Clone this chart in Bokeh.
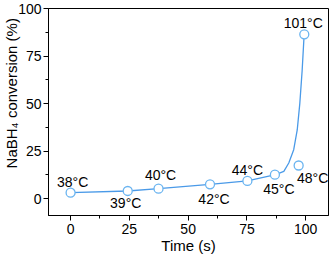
from bokeh.plotting import figure
from bokeh.models import FixedTicker, ColumnDataSource, Range1d
from bokeh.core.properties import value
from bokeh.embed import file_html
from bokeh.resources import INLINE

# smooth guide curve
curve_t = [0, 24.3, 37.4, 59.3, 75.2, 87.2, 90.7, 92.8, 94.9, 96.4, 97.5, 98.5, 99.2, 99.4]
curve_y = [3.1, 4.0, 5.2, 7.5, 9.3, 12.6, 14.3, 18.7, 25.7, 36.1, 50.1, 67.5, 83.2, 86.4]

# measured points
point_t = [0, 24.3, 37.4, 59.3, 75.2, 86.9, 97.0, 99.4]
point_y = [3.1, 4.0, 5.2, 7.5, 9.3, 12.6, 17.4, 86.4]
point_labels = ["38°C", "39°C", "40°C", "42°C", "44°C", "45°C", "48°C", "101°C"]

x_ticks = [0, 25, 50, 75, 100]
y_ticks = [0, 25, 50, 75, 100]

FONT = "Liberation Sans"
LINE = "#4a9ae8"
MARK = "#6ab4f0"

p = figure(width=331, height=256, output_backend="svg", toolbar_location=None,
           x_range=Range1d(-9.4, 109.7), y_range=Range1d(-8.9, 100),
           min_border_left=47, min_border_right=3, min_border_top=8, min_border_bottom=40)
p.background_fill_color = "white"
p.border_fill_color = "white"
p.outline_line_color = "black"
p.outline_line_width = 1
p.xgrid.visible = False
p.ygrid.visible = False

p.line(curve_t, curve_y, line_color=LINE, line_width=1.3)
p.scatter(point_t, point_y, size=9, marker="circle", fill_color="white",
          line_color=MARK, line_width=1.3)

src = ColumnDataSource(dict(x=point_t, y=point_y, text=point_labels,
                            dx=[2, -2, 2, 4, 0, 4, 14, -1],
                            dy=[-11, 12, -14, 15, -11, 14, 12, -11]))
p.text(x="x", y="y", text="text", x_offset="dx", y_offset="dy", source=src,
       text_font=value(FONT), text_font_size="14px", text_color="black",
       text_align="center", text_baseline="middle")

for ax in (p.xaxis[0], p.yaxis[0]):
    ax.axis_line_color = "black"
    ax.major_tick_line_color = "black"
    ax.minor_tick_line_color = "black"
    ax.major_tick_out = 5
    ax.major_tick_in = 0
    ax.minor_tick_out = 3
    ax.minor_tick_in = 0
    ax.major_label_text_font = FONT
    ax.major_label_text_font_size = "14px"
    ax.major_label_text_color = "black"
    ax.axis_label_text_font = FONT
    ax.axis_label_text_font_size = "15px"
    ax.axis_label_text_font_style = "normal"
    ax.axis_label_text_color = "black"

p.xaxis.ticker = FixedTicker(ticks=x_ticks, minor_ticks=[12.5, 37.5, 62.5, 87.5])
p.yaxis.ticker = FixedTicker(ticks=y_ticks, minor_ticks=[12.5, 37.5, 62.5, 87.5])
p.xaxis.axis_label = "Time (s)"
p.xaxis.major_label_standoff = 3
p.xaxis.axis_label_standoff = 0
p.yaxis.major_label_standoff = 2
p.yaxis.axis_label_standoff = -5
# leading no-break spaces shift the label upward, as in the reference
p.yaxis.axis_label = "\u00a0" * 9 + "NaBH₄ conversion (%)"

open("out.html", "w").write(file_html(p, INLINE))
